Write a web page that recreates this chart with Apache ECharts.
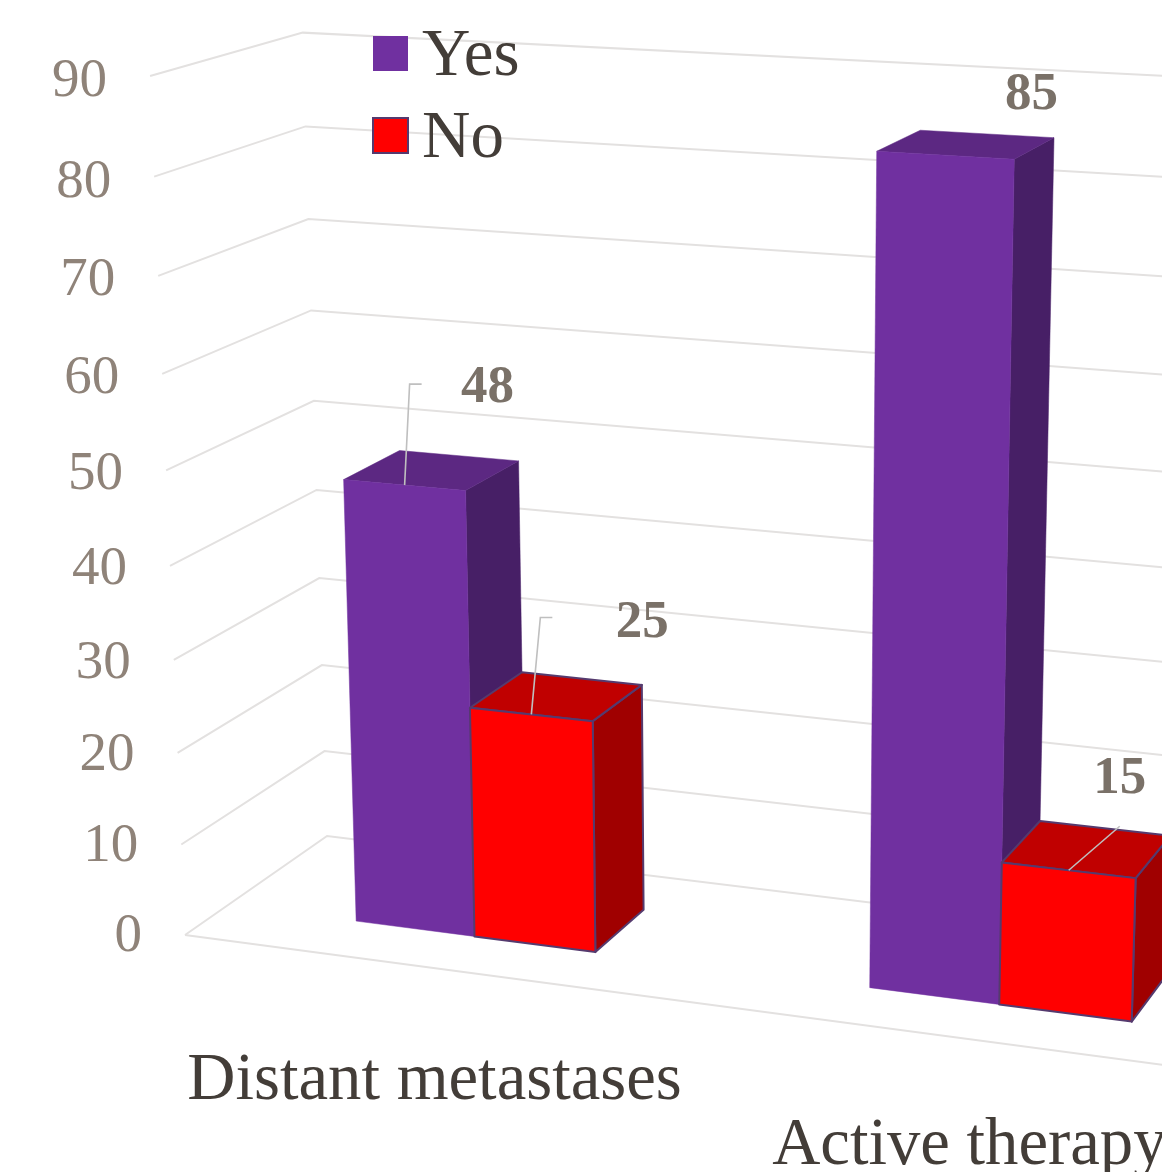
<!DOCTYPE html>
<html>
<head>
<meta charset="utf-8">
<style>
    html, body { margin: 0; padding: 0; background: #fff; overflow: hidden; }
    #chart { width: 1162px; height: 1172px; }
</style>
<script src="https://cdn.jsdelivr.net/npm/echarts@6/dist/echarts.min.js"></script>
</head>
<body>
<div id="chart"></div>
<script>
// data
var categories = ['Distant metastases', 'Active therapy'];
var yesValues = [48, 85];
var noValues = [25, 15];
var yTicks = [0, 10, 20, 30, 40, 50, 60, 70, 80, 90];

// where the value labels sit, px from the middle of the bar's front top edge
// [label x, label y, leader points...]
var yesLabelLayout = [
    { label: [83, -97], leader: [[5, -101], [17, -101]] },
    { label: [86, -60], leader: [] }
];
var noLabelLayout = [
    { label: [111, -91], leader: [[9, -97], [21, -97]] },
    { label: [51, -91], leader: [[51, -44]] }
];
// px under the floor line, one per category
var categoryLabelDrop = [113, 107];

var FONT = '"Liberation Serif", "Times New Roman", serif';
var yMax = 90;

// perspective of the box: origin, 3 vanishing points and their weights
var ORIGIN = [185, 935];
var VP_S = [-10800, -525], A_S = -0.0817;
var VP_V = [753, 14900], A_V = -0.05795;
var VP_D = [2289, -531], A_D = 0.0724;

// one category takes this much of the s axis (s = 1 is the page's right edge)
var BAND_S = 0.5438;
var SPAN_S = BAND_S * categories.length;
var BAR_W = 0.2385; // of a band
var BAR_SHIFT = 0.0006;
var FRONT_D = 0.293, BACK_D = 0.693;

function project(s, v, d) {
    var a = s * A_S, b = v * A_V, c = d * A_D;
    var w = 1 + a + b + c;
    return [
        (ORIGIN[0] + a * VP_S[0] + b * VP_V[0] + c * VP_D[0]) / w,
        (ORIGIN[1] + a * VP_S[1] + b * VP_V[1] + c * VP_D[1]) / w
    ];
}

// grid pixel -> s, v
function toBox(params, pt) {
    var g = params.coordSys;
    return [(pt[0] - g.x) / g.width * SPAN_S, (g.y + g.height - pt[1]) / g.height];
}

function poly(points, fill, stroke, width) {
    return {
        type: 'polygon',
        shape: { points: points },
        style: { fill: fill, stroke: stroke || fill, lineWidth: width || 0.5, lineJoin: 'round' }
    };
}

function barRenderer(side, colors, layout) {
    return function (params, api) {
        var idx = api.value(0), val = api.value(1);
        var top = toBox(params, api.coord([idx, val]));
        var base = toBox(params, api.coord([idx, 0]));
        var w = BAR_W * BAND_S;
        var s0 = (side < 0 ? top[0] - w : top[0]) + BAR_SHIFT;
        var s1 = s0 + w;
        var v0 = base[1], v1 = top[1];
        var fl = project(s0, v1, FRONT_D), fr = project(s1, v1, FRONT_D);
        var fbl = project(s0, v0, FRONT_D), fbr = project(s1, v0, FRONT_D);
        var bl = project(s0, v1, BACK_D), br = project(s1, v1, BACK_D);
        var bbr = project(s1, v0, BACK_D);
        var anchor = [(fl[0] + fr[0]) / 2, (fl[1] + fr[1]) / 2];
        var children = [
            poly([fr, br, bbr, fbr], colors.side, colors.edge, colors.edgeW),
            poly([fl, bl, br, fr], colors.top, colors.edge, colors.edgeW),
            poly([fl, fr, fbr, fbl], colors.front, colors.edge, colors.edgeW)
        ];
        var lay = layout[idx];
        if (lay.leader.length) {
            var pts = [anchor];
            for (var i = 0; i < lay.leader.length; i++) {
                pts.push([anchor[0] + lay.leader[i][0], anchor[1] + lay.leader[i][1]]);
            }
            children.push({
                type: 'polyline',
                shape: { points: pts },
                style: { fill: null, stroke: '#bfbfbf', lineWidth: 1.6 }
            });
        }
        children.push({
            type: 'text',
            style: {
                text: String(val),
                x: anchor[0] + lay.label[0],
                y: anchor[1] + lay.label[1],
                align: 'center',
                verticalAlign: 'middle',
                fill: '#7a7168',
                font: 'bold 53px ' + FONT
            }
        });
        return { type: 'group', children: children };
    };
}

function renderWallLine(params, api) {
    var v = toBox(params, api.coord([0, api.value(0)]))[1];
    var start = project(0, v, 0);
    var children = [
        {
            type: 'polyline',
            shape: { points: [start, project(0, v, 1), project(SPAN_S, v, 1)] },
            style: { fill: null, stroke: '#e3e1e0', lineWidth: 2 }
        },
        {
            type: 'text',
            style: {
                text: String(api.value(0)),
                x: start[0] - 43,
                y: start[1] + 2 + v * 4,
                align: 'right',
                verticalAlign: 'middle',
                fill: '#8f8379',
                font: '55px ' + FONT
            }
        }
    ];
    if (api.value(0) === 0) {
        children.push({
            type: 'line',
            shape: { x1: start[0], y1: start[1], x2: project(SPAN_S, 0, 0)[0], y2: project(SPAN_S, 0, 0)[1] },
            style: { stroke: '#e3e1e0', lineWidth: 2 }
        });
    }
    return { type: 'group', children: children };
}

function renderCategory(params, api) {
    var idx = api.value(0);
    var pt = toBox(params, api.coord([idx, 0]));
    var p = project(pt[0], 0, 0);
    return {
        type: 'text',
        style: {
            text: categories[idx],
            x: p[0],
            y: p[1] + categoryLabelDrop[idx],
            align: 'center',
            verticalAlign: 'middle',
            fill: '#433d38',
            font: '66.7px ' + FONT
        }
    };
}

var yesColors = { front: '#7030A0', top: '#5c2882', side: '#471f66', edge: null, edgeW: 0.5 };
var noColors = { front: '#FF0000', top: '#C00000', side: '#A00000', edge: '#553a6e', edgeW: 2 };

var chart = echarts.init(document.getElementById('chart'), null, { renderer: 'canvas' });
chart.setOption({
    animation: false,
    backgroundColor: '#ffffff',
    grid: { left: 0, right: 0, top: 0, bottom: 0 },
    xAxis: { type: 'category', data: categories, show: false },
    yAxis: { type: 'value', min: 0, max: yMax, interval: 10, show: false },
    legend: {
        orient: 'vertical',
        left: 367,
        top: 19,
        itemWidth: 35,
        itemHeight: 35,
        itemGap: 15,
        icon: 'rect',
        data: ['Yes', 'No'],
        formatter: '{a|{name}}',
        textStyle: {
            rich: {
                a: { fontFamily: FONT, fontSize: 67, color: '#433d38', padding: [8, 0, 0, 9] }
            }
        }
    },
    series: [
        {
            type: 'custom',
            name: 'walls',
            silent: true,
            z: 1,
            data: yTicks.map(function (t) { return [t]; }),
            renderItem: renderWallLine
        },
        {
            type: 'custom',
            name: 'categories',
            silent: true,
            z: 1,
            data: categories.map(function (c, i) { return [i]; }),
            renderItem: renderCategory
        },
        {
            type: 'custom',
            name: 'Yes',
            z: 3,
            itemStyle: { color: yesColors.front },
            data: yesValues.map(function (v, i) { return [i, v]; }),
            encode: { x: 0, y: 1 },
            renderItem: barRenderer(-1, yesColors, yesLabelLayout)
        },
        {
            type: 'custom',
            name: 'No',
            z: 4,
            itemStyle: { color: noColors.front, borderColor: noColors.edge, borderWidth: 2 },
            data: noValues.map(function (v, i) { return [i, v]; }),
            encode: { x: 0, y: 1 },
            renderItem: barRenderer(1, noColors, noLabelLayout)
        }
    ]
});
</script>
</body>
</html>
